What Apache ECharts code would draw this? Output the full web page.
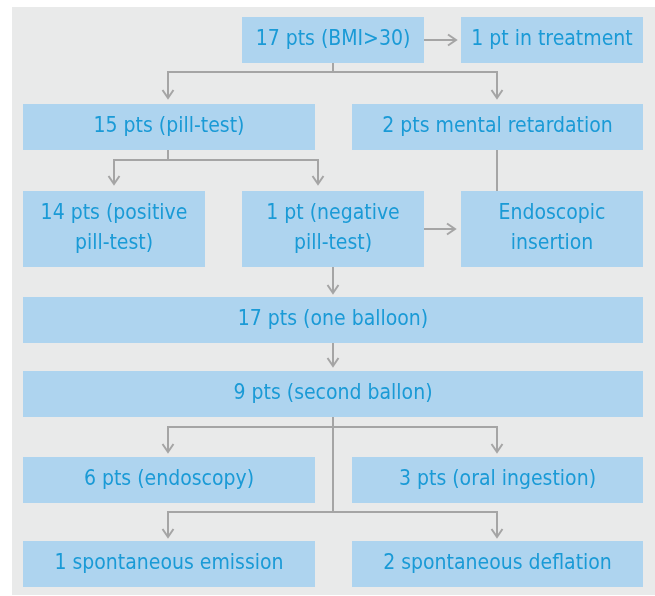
<!DOCTYPE html>
<html><head><meta charset="utf-8">
<script src="https://cdn.jsdelivr.net/npm/echarts@6/dist/echarts.min.js"></script>
<style>html,body{margin:0;padding:0;background:#fff}#c{width:655px;height:596px}</style>
</head><body><div id="c"></div>
<script>
// Box texts
const boxLabels = [
  '17 pts (BMI>30)', '1 pt in treatment',
  '15 pts (pill-test)', '2 pts mental retardation',
  '14 pts (positive\npill-test)', '1 pt (negative\npill-test)', 'Endoscopic\ninsertion',
  '17 pts (one balloon)',
  '9 pts (second ballon)',
  '6 pts (endoscopy)', '3 pts (oral ingestion)',
  '1 spontaneous emission', '2 spontaneous deflation'
];
// Box layout (diagram coordinates)
const boxLeft   = [242, 461, 23, 352, 23, 242, 461, 23, 23, 23, 352, 23, 352];
const boxRight  = [424, 643, 315, 643, 205, 424, 643, 643, 643, 315, 643, 315, 643];
const boxTop    = [17, 17, 104, 104, 191, 191, 191, 297, 371, 457, 457, 541, 541];
const boxBottom = [63, 63, 150, 150, 267, 267, 267, 343, 417, 503, 503, 587, 587];
// Connector paths and arrow heads
const connectorPaths = [
  [[424,40],[456,40]],
  [[333,63],[333,72]],
  [[168,98],[168,72],[497,72],[497,98]],
  [[168,150],[168,160]],
  [[114,184],[114,160],[318,160],[318,184]],
  [[497,150],[497,191]],
  [[424,229],[455,229]],
  [[333,267],[333,293]],
  [[333,343],[333,366]],
  [[333,417],[333,512]],
  [[168,452],[168,427],[497,427],[497,452]],
  [[168,537],[168,512],[497,512],[497,537]]
];
const arrowAtStart = [false,false,true,false,true,false,false,false,false,false,true,true];
const arrowAtEnd   = [true,false,true,false,true,false,true,true,true,false,true,true];

const BOX_FILL = '#aed4ef', TEXT_COLOR = '#1a9ad6', LINE_COLOR = '#a5a5a5', PANEL = '#e9eaea';
const FONT_FAMILY = '"DejaVu Sans Condensed", "DejaVu Sans", sans-serif';

const chart = echarts.init(document.getElementById('c'), null, {renderer: 'canvas'});

function chevron(tip, from, L, W) {
  const dx = tip[0] - from[0], dy = tip[1] - from[1];
  const len = Math.sqrt(dx*dx + dy*dy) || 1;
  const ux = dx/len, uy = dy/len, nx = -uy, ny = ux;
  return [
    [tip[0] - ux*L + nx*W, tip[1] - uy*L + ny*W],
    [tip[0], tip[1]],
    [tip[0] - ux*L - nx*W, tip[1] - uy*L - ny*W]
  ];
}

const boxData = boxLabels.map((t, i) => [boxLeft[i], boxTop[i], boxRight[i], boxBottom[i]]);
const connData = connectorPaths.map((p, i) => [i]);

chart.setOption({
  animation: false,
  backgroundColor: '#ffffff',
  grid: {left: 12, right: 0, top: 7, bottom: 1, show: true, backgroundColor: PANEL, borderWidth: 0},
  xAxis: {type: 'value', min: 12, max: 655, show: false},
  yAxis: {type: 'value', min: 7, max: 595, inverse: true, show: false},
  series: [
    {
      type: 'custom',
      name: 'connectors',
      data: connData,
      silent: true,
      renderItem: function (params, api) {
        const i = params.dataIndex;
        const pts = connectorPaths[i].map(p => api.coord(p));
        const children = [{
          type: 'polyline',
          shape: {points: pts},
          style: {stroke: LINE_COLOR, lineWidth: 2, fill: null, lineJoin: 'miter', lineCap: 'butt'}
        }];
        if (arrowAtEnd[i]) {
          children.push({type: 'polyline', shape: {points: chevron(pts[pts.length-1], pts[pts.length-2], 8, 5.5)},
            style: {stroke: LINE_COLOR, lineWidth: 2, fill: null}});
        }
        if (arrowAtStart[i]) {
          children.push({type: 'polyline', shape: {points: chevron(pts[0], pts[1], 8, 5.5)},
            style: {stroke: LINE_COLOR, lineWidth: 2, fill: null}});
        }
        return {type: 'group', children: children};
      }
    },
    {
      type: 'custom',
      name: 'boxes',
      data: boxData,
      silent: true,
      renderItem: function (params, api) {
        const i = params.dataIndex;
        const p0 = api.coord([api.value(0), api.value(1)]);
        const p1 = api.coord([api.value(2), api.value(3)]);
        return {
          type: 'group',
          children: [
            {type: 'rect', shape: {x: p0[0], y: p0[1], width: p1[0]-p0[0], height: p1[1]-p0[1]},
             style: {fill: BOX_FILL}},
            {type: 'text', x: (p0[0]+p1[0])/2, y: (p0[1]+p1[1])/2,
             style: {text: boxLabels[i], fill: TEXT_COLOR, fontSize: 21, fontFamily: FONT_FAMILY,
                     align: 'center', verticalAlign: 'middle', lineHeight: 30}}
          ]
        };
      }
    }
  ]
});
</script>
</body></html>
